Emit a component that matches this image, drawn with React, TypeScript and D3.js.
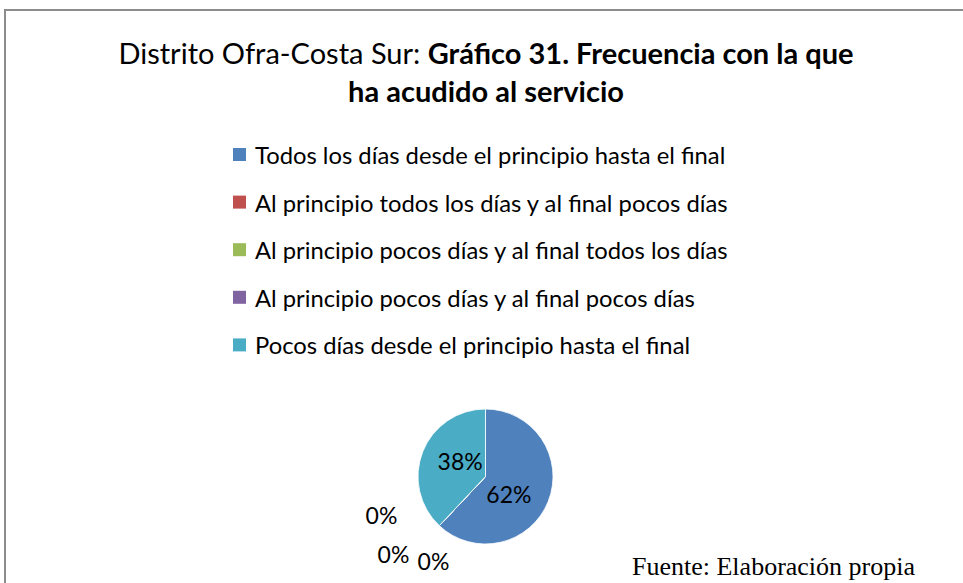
import React, { useEffect, useRef } from 'react';
import * as d3 from 'd3';

const categories = [
  'Todos los días desde el principio hasta el final',
  'Al principio todos los días y al final pocos días',
  'Al principio pocos días y al final todos los días',
  'Al principio pocos días y al final pocos días',
  'Pocos días desde el principio hasta el final',
];
const values = [62, 0, 0, 0, 38];
const colors = ['#4f81bd', '#c0504d', '#9bbb59', '#8064a2', '#4bacc6'];
// manual label spots for the 0% slices, like the spreadsheet moved them
const zeroLabelOffsets: [number, number][] = [[-52, 84], [-92, 77], [-104, 38]];

const App: React.FC = () => {
  const svgRef = useRef<SVGSVGElement>(null);

  useEffect(() => {
    if (!svgRef.current) return;
    const width = 963;
    const height = 583;
    const svg = d3.select(svgRef.current);
    svg.selectAll('*').remove();

    svg.append('rect').attr('width', width).attr('height', height).attr('fill', '#fff');
    // chart frame (right and bottom edges fall outside the crop)
    svg.append('rect')
      .attr('x', 5).attr('y', 10)
      .attr('width', width + 20).attr('height', height + 20)
      .attr('fill', 'none')
      .attr('stroke', '#8c8c8c')
      .attr('stroke-width', 2);

    const font = 'Lato, "Open Sans", sans-serif';

    const title = svg.append('text')
      .attr('text-anchor', 'middle')
      .attr('font-family', font)
      .attr('font-size', 29)
      .attr('fill', '#000');
    const l1 = title.append('tspan').attr('x', 486).attr('y', 64);
    l1.append('tspan').text('Distrito Ofra-Costa Sur: ');
    l1.append('tspan').attr('font-weight', 'bold').text('Gráfico 31. Frecuencia con la que');
    title.append('tspan').attr('x', 486).attr('y', 102).attr('font-weight', 'bold').text('ha acudido al servicio');

    // legend
    const legend = svg.append('g').attr('transform', 'translate(233, 155)');
    const rowH = 47.6;
    categories.forEach((c, i) => {
      const row = legend.append('g').attr('transform', `translate(0, ${i * rowH})`);
      row.append('rect')
        .attr('x', 0).attr('y', -7)
        .attr('width', 13).attr('height', 13)
        .attr('fill', colors[i]);
      row.append('text')
        .attr('x', 22).attr('y', 0)
        .attr('dominant-baseline', 'central')
        .attr('font-family', font)
        .attr('font-size', 23.8)
        .attr('fill', '#000')
        .text(c);
    });

    // pie
    const cx = 485.5;
    const cy = 476.5;
    const radius = 67.5;
    const pie = d3.pie<number>().sort(null).value(d => d);
    const arcs = pie(values);
    const arc = d3.arc<d3.PieArcDatum<number>>().innerRadius(0).outerRadius(radius);
    const g = svg.append('g').attr('transform', `translate(${cx}, ${cy})`);

    g.selectAll('path')
      .data(arcs)
      .enter()
      .append('path')
      .attr('d', arc)
      .attr('fill', (_d, i) => colors[i])
      .attr('stroke', '#fff')
      .attr('stroke-width', 0.8);

    const labelArc = d3.arc<d3.PieArcDatum<number>>().innerRadius(radius * 0.5).outerRadius(radius * 0.5);
    let z = 0;
    arcs.forEach((a, i) => {
      const pct = Math.round((a.value / d3.sum(values)) * 100);
      let x: number, y: number;
      if (a.value === 0) {
        [x, y] = zeroLabelOffsets[z++];
      } else {
        [x, y] = labelArc.centroid(a);
        if (i === 0) { x -= 8; y += 5; }
        if (i === 4) { x += 6; y -= 3; }
      }
      g.append('text')
        .attr('x', x).attr('y', y)
        .attr('text-anchor', 'middle')
        .attr('dominant-baseline', 'central')
        .attr('font-family', font)
        .attr('font-size', 23)
        .attr('fill', '#000')
        .text(`${pct}%`);
    });

    svg.append('text')
      .attr('x', 632).attr('y', 575)
      .attr('font-family', '"Liberation Serif", "Times New Roman", serif')
      .attr('font-size', 26)
      .attr('fill', '#000')
      .text('Fuente: Elaboración propia');
  }, []);

  return (
    <svg ref={svgRef} width={963} height={583} style={{ position: 'absolute', left: 0, top: 0 }} />
  );
};

export default App;
